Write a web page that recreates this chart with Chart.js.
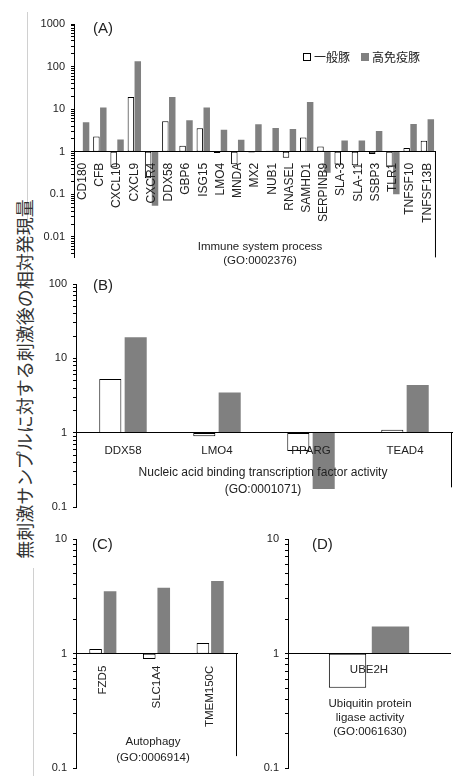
<!DOCTYPE html>
<html lang="ja">
<head>
  <meta charset="UTF-8" />
  <title>刺激後の相対発現量</title>
  <script src="https://cdn.jsdelivr.net/npm/chart.js"></script>
  <style>
    body {
      margin: 0;
      background: #fff;
    }
    #wrap {
      position: relative;
      width: 453px;
      height: 781px;
      overflow: hidden;
    }
    canvas {
      position: absolute;
    }
    .vline {
      position: absolute;
      width: 1px;
      background: #d0d0d0;
    }
    #ylab {
      position: absolute;
      left: 24px;
      top: 379px;
      transform: translate(-50%, -50%) rotate(-90deg);
      white-space: nowrap;
      font: 18px "Noto Sans CJK JP";
      color: #333;
    }
  </style>
</head>
<body>
  <div id="wrap">
    <div class="vline" style="left:27px; top:12px; height:260px"></div>
    <div class="vline" style="left:33px; top:568px; height:208px"></div>
    <div id="ylab">無刺激サンプルに対する刺激後の相対発現量</div>
    <canvas id="chartA" style="left:0; top:0" width="453" height="270"></canvas>
    <canvas id="chartB" style="left:0; top:270px" width="453" height="250"></canvas>
    <canvas id="chartC" style="left:0; top:520px" width="240" height="261"></canvas>
    <canvas id="chartD" style="left:230px; top:520px" width="223" height="261"></canvas>
  </div>

  <script>
    const seriesNames = ['一般豚', '高免疫豚'];

    // (A) Immune system process
    const immuneGenes = ['CD180', 'CFB', 'CXCL10', 'CXCL9', 'CXCR4', 'DDX58', 'GBP6', 'ISG15', 'LMO4', 'MNDA', 'MX2',
      'NUB1', 'RNASEL', 'SAMHD1', 'SERPINB9', 'SLA-3', 'SLA-11', 'SSBP3', 'TLR1', 'TNFSF10', 'TNFSF13B'];
    const immuneNormal = [1.03, 2.27, 0.43, 19.4, 0.24, 5.2, 1.39, 3.56, 0.93, 0.51, 0.96,
      1.05, 0.72, 2.15, 1.32, 0.50, 0.48, 0.89, 0.43, 1.23, 1.8];
    const immuneHyper = [4.9, 10.9, 1.94, 134, 0.054, 19.4, 5.5, 10.9, 3.3, 1.9, 4.4,
      3.6, 3.4, 14.7, 0.32, 1.84, 1.84, 3.05, 0.10, 4.5, 5.8];
    const immuneTicks = ['1000', '100', '10', '1', '0.1', '0.01'];

    // (B) Nucleic acid binding transcription factor activity
    const nucleicGenes = ['DDX58', 'LMO4', 'PPARG', 'TEAD4'];
    const nucleicNormal = [5.3, 0.9, 0.57, 1.1];
    const nucleicHyper = [19.3, 3.48, 0.177, 4.4];
    const nucleicTicks = ['100', '10', '1', '0.1'];

    // (C) Autophagy
    const autophagyGenes = ['FZD5', 'SLC1A4', 'TMEM150C'];
    const autophagyNormal = [1.1, 0.9, 1.24];
    const autophagyHyper = [3.5, 3.75, 4.3];

    // (D) Ubiquitin protein ligase activity
    const ubiquitinGenes = ['UBE2H'];
    const ubiquitinNormal = [0.505];
    const ubiquitinHyper = [1.73];

    const smallTicks = ['10', '1', '0.1'];

    const FONT = '"Liberation Sans", Arial, sans-serif';
    const INK = '#222';

    // log tick marks 1..9 per decade, labels only where listed
    function logTicks(min, max) {
      const out = [];
      for (let e = -4; e <= 3; e++) {
        for (let m = 1; m <= 9; m++) {
          const v = Number((m * Math.pow(10, e)).toPrecision(12));
          if (v >= min && v <= max) out.push({ value: v });
        }
      }
      return out;
    }

    // panel letter, caption, legend and the short right edge line
    const extras = {
      id: 'extras',
      afterDraw(chart, args, o) {
        const ctx = chart.ctx;
        const area = chart.chartArea;
        const y = chart.scales.y;
        ctx.save();
        if (o.edgeTo) {
          ctx.strokeStyle = '#000';
          ctx.lineWidth = 1;
          ctx.beginPath();
          ctx.moveTo(area.right - 0.5, y.getPixelForValue(1));
          ctx.lineTo(area.right - 0.5, y.getPixelForValue(o.edgeTo));
          ctx.stroke();
        }
        ctx.fillStyle = INK;
        ctx.textBaseline = 'middle';
        ctx.textAlign = 'left';
        ctx.font = '15px ' + FONT;
        ctx.fillText(o.letter, o.letterX, o.letterY);

        ctx.textAlign = 'center';
        ctx.font = o.capSize + 'px ' + FONT;
        o.caption.forEach((line, i) => ctx.fillText(line, o.capX, o.capY + i * o.capStep));

        if (o.legend) {
          ctx.textAlign = 'left';
          ctx.font = '12px "Noto Sans CJK JP"';
          let x = o.legend.x;
          chart.data.datasets.forEach(ds => {
            ctx.fillStyle = ds.backgroundColor;
            ctx.fillRect(x, o.legend.y - 4, 8, 8);
            if (ds.borderWidth) {
              ctx.strokeStyle = '#000';
              ctx.lineWidth = 1;
              ctx.strokeRect(x + 0.5, o.legend.y - 3.5, 7, 7);
            }
            ctx.fillStyle = INK;
            ctx.fillText(ds.label, x + 11, o.legend.y);
            x += 11 + ctx.measureText(ds.label).width + 11;
          });
        }
        ctx.restore();
      }
    };

    function makeChart(id, genes, normal, hyper, tickLabels, cfg) {
      return new Chart(document.getElementById(id), {
        type: 'bar',
        data: {
          labels: genes,
          datasets: [
            {
              label: seriesNames[0],
              data: normal.map(v => [1, v]),
              backgroundColor: '#ffffff',
              borderColor: '#000000',
              borderWidth: 1,
              borderSkipped: false
            },
            {
              label: seriesNames[1],
              data: hyper.map(v => [1, v]),
              backgroundColor: '#808080',
              borderWidth: 0
            }
          ]
        },
        options: {
          responsive: false,
          animation: false,
          layout: { padding: cfg.pad },
          datasets: { bar: { categoryPercentage: cfg.cp, barPercentage: cfg.bp } },
          plugins: {
            legend: { display: false },
            tooltip: { enabled: false },
            extras: cfg.extras
          },
          scales: {
            x: {
              position: { y: 1 },
              afterFit: s => { s.height = 0; },
              grid: { display: false, drawTicks: false },
              border: { display: true, color: '#000', width: 1, z: 1 },
              ticks: {
                z: 1,
                autoSkip: false,
                minRotation: cfg.rot,
                maxRotation: cfg.rot,
                padding: cfg.tickPad,
                color: INK,
                font: { family: FONT, size: cfg.catSize }
              }
            },
            y: {
              type: 'logarithmic',
              min: cfg.min,
              max: cfg.max,
              afterFit: s => { s.width = cfg.axisW; },
              afterBuildTicks: s => { s.ticks = logTicks(cfg.min, cfg.max); },
              grid: { display: true, drawOnChartArea: false, drawTicks: true, tickLength: 3, color: '#000' },
              border: { display: true, color: '#000', width: 1 },
              ticks: {
                autoSkip: false,
                padding: 6,
                color: INK,
                font: { family: FONT, size: 11 },
                callback: v => tickLabels.find(t => Number(t) === v) || ''
              }
            }
          }
        },
        plugins: [extras]
      });
    }

    makeChart('chartA', immuneGenes, immuneNormal, immuneHyper, immuneTicks, {
      pad: { left: 0, right: 10, top: 24, bottom: 5 },
      axisW: 74, min: 0.0033, max: 1000, cp: 0.8, bp: 0.94, rot: 90, tickPad: 11, catSize: 12,
      extras: {
        letter: '(A)', letterX: 93, letterY: 29, edgeTo: 0.0033,
        caption: ['Immune system process', '(GO:0002376)'], capX: 260, capY: 247, capStep: 13.5, capSize: 11.5,
        legend: { x: 303, y: 57 }
      }
    });

    makeChart('chartB', nucleicGenes, nucleicNormal, nucleicHyper, nucleicTicks, {
      pad: { left: 0, right: 1, top: 14, bottom: 4 },
      axisW: 76, min: 0.1, max: 100, cp: 0.54, bp: 0.87, rot: 0, tickPad: 11, catSize: 11.5,
      extras: {
        letter: '(B)', letterX: 93, letterY: 16, edgeTo: 0.186,
        caption: ['Nucleic acid binding transcription factor activity', '(GO:0001071)'], capX: 263, capY: 203, capStep: 16.7, capSize: 12
      }
    });

    makeChart('chartC', autophagyGenes, autophagyNormal, autophagyHyper, smallTicks, {
      pad: { left: 0, right: 3, top: 19, bottom: 11 },
      axisW: 76, min: 0.1, max: 10, cp: 0.54, bp: 0.87, rot: 90, tickPad: 12, catSize: 11.5,
      extras: {
        letter: '(C)', letterX: 92, letterY: 25, edgeTo: 0.128,
        caption: ['Autophagy', '(GO:0006914)'], capX: 153, capY: 222, capStep: 15.5, capSize: 11.5
      }
    });

    makeChart('chartD', ubiquitinGenes, ubiquitinNormal, ubiquitinHyper, smallTicks, {
      pad: { left: 0, right: 3, top: 19, bottom: 11 },
      axisW: 58, min: 0.1, max: 10, cp: 0.53, bp: 0.87, rot: 0, tickPad: 9, catSize: 11.5,
      extras: {
        letter: '(D)', letterX: 82, letterY: 25,
        caption: ['Ubiquitin protein', 'ligase activity', '(GO:0061630)'], capX: 140, capY: 184, capStep: 14, capSize: 11.5
      }
    });
  </script>
</body>
</html>
